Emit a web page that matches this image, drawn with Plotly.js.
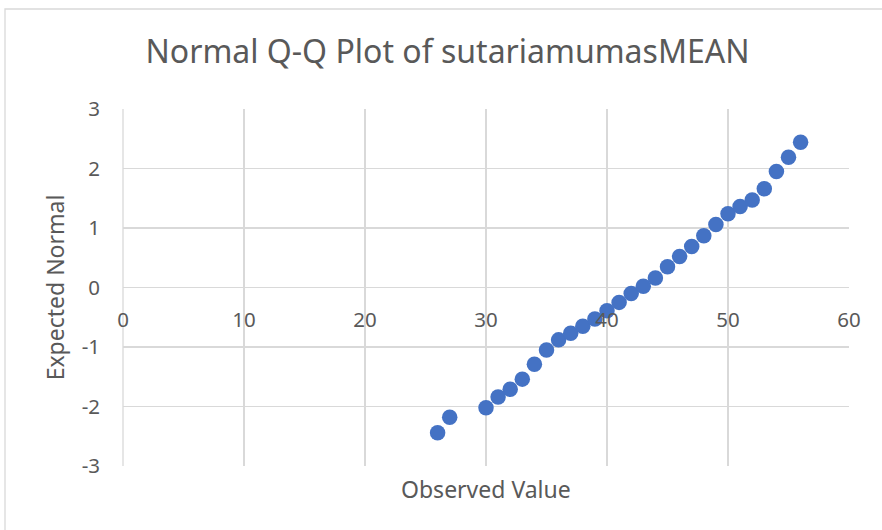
<!DOCTYPE html>
<html><head><meta charset="utf-8">
<script src="https://cdn.plot.ly/plotly-3.0.1.min.js"></script>
<style>html,body{margin:0;padding:0;background:#fff}#chart{width:882px;height:530px}</style>
</head><body><div id="chart"></div>
<script>
const observed = [26,27,30,31,32,33,34,35,36,37,38,39,40,41,42,43,44,45,46,47,48,49,50,51,52,53,54,55,56];
const expected = [-2.44,-2.18,-2.02,-1.84,-1.71,-1.54,-1.29,-1.05,-0.88,-0.77,-0.65,-0.53,-0.39,-0.25,-0.10,0.02,0.16,0.35,0.52,0.69,0.87,1.06,1.24,1.36,1.47,1.66,1.95,2.19,2.44];
const xTicks = [0,10,20,30,40,50,60];
const yTicks = [-3,-2,-1,0,1,2,3];
const titleText = 'Normal Q-Q Plot of sutariamumasMEAN';
const xTitle = 'Observed Value';
const yTitle = 'Expected Normal';

const font = '"Noto Sans", "Open Sans", sans-serif';
const gray = '#595959';
const L = 123, R = 849, T = 109, B = 466, W = 882, H = 530;
const px = v => (v - L) / (R - L);
const py = v => (B - v) / (B - T);

const data = [{
  type: 'scatter', mode: 'markers', x: observed, y: expected,
  marker: {color: '#4472C4', size: 15.5, line: {width: 0}},
  hoverinfo: 'x+y'
}];

const layout = {
  width: W, height: H,
  margin: {l: L, r: W - R, t: T, b: H - B},
  paper_bgcolor: '#fff', plot_bgcolor: '#fff',
  showlegend: false,
  font: {family: font, color: gray},
  title: {text: titleText, font: {family: font, size: 32, color: gray}, x: px(447.5), xanchor: 'center', xref: 'paper', y: 1 - 52 / H, yanchor: 'middle'},
  xaxis: {
    range: [0, 60], tickvals: xTicks, ticktext: xTicks.map(String),
    showgrid: true, gridcolor: '#d9d9d9', gridwidth: 1.3,
    zeroline: false, showline: false, ticks: '',
    anchor: 'free', position: 0.5,
    tickfont: {family: font, size: 20.5, color: gray}, ticklabelstandoff: 18
  },
  yaxis: {
    range: [-3, 3], tickvals: yTicks, ticktext: yTicks.map(String),
    showgrid: true, gridcolor: '#d9d9d9', gridwidth: 1.3,
    zeroline: false, showline: false, ticks: '',
    tickfont: {family: font, size: 20.5, color: gray}, ticklabelstandoff: 22,
    title: {text: yTitle, font: {family: font, size: 23, color: gray}, standoff: 10}
  },
  annotations: [{
    text: xTitle, xref: 'paper', yref: 'paper', x: 0.5, y: py(489),
    xanchor: 'center', yanchor: 'middle', showarrow: false,
    font: {family: font, size: 23, color: gray}
  }],
  shapes: [
    {type: 'rect', xref: 'paper', yref: 'paper', x0: px(5), x1: px(900), y0: py(545), y1: py(9),
     line: {color: '#d9d9d9', width: 1.3}, fillcolor: 'rgba(0,0,0,0)', layer: 'below'},
    {type: 'line', xref: 'paper', yref: 'paper', x0: 0, x1: 0, y0: 0, y1: 1,
     line: {color: '#d9d9d9', width: 1.3}, layer: 'below'}
  ]
};

Plotly.newPlot('chart', data, layout, {displayModeBar: false, staticPlot: true});
</script></body></html>
